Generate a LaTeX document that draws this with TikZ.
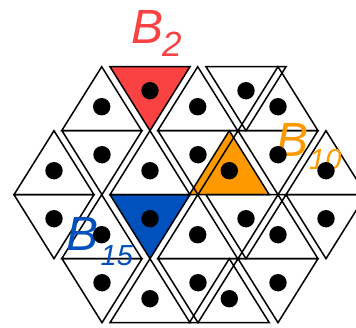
\documentclass[tikz,border=0pt]{standalone}
\usepackage{fontspec}
\setmainfont{Liberation Sans}

\definecolor{blockred}{RGB}{250,66,66}
\definecolor{blockorange}{RGB}{255,153,0}
\definecolor{blockblue}{RGB}{0,80,190}

\tikzset{
  tri/.style={line width=1.5pt, line join=miter},
  pip/.style={fill=black},
  blocklabel/.style={inner sep=0pt, anchor=base west,
    font=\fontsize{48}{48}\selectfont\itshape},
}

\begin{document}
\begin{tikzpicture}[x=1pt,y=-1pt]
  \useasboundingbox (0,0) rectangle (356,327);
  \clip (0,0) rectangle (356,327);
  % coloured blocks B_2, B_10, B_15
  \fill[blockred] (110,66.7) -- (190,66.7) -- (150,130.7) -- cycle;
  \fill[blockorange] (229.3,130.7) -- (189.3,194.7) -- (269.3,194.7) -- cycle;
  \fill[blockblue] (110,194.7) -- (190,194.7) -- (150,258.7) -- cycle;
  % upward triangles: apex x / top row
  \foreach \x/\r in {101.7/66.7, 197.7/66.7, 278/66.7,
                     54/130.7, 150/130.7, 229.3/130.7, 326/130.7,
                     101.7/194.7, 197.7/194.7, 278/194.7,
                     150/258.7, 229.3/258.7}
    \draw[tri] (\x,\r) -- ++(-40,64) -- ++(80,0) -- cycle;
  % downward triangles: apex x / top row
  \foreach \x/\r in {150/66.7, 246/66.7,
                     102/130.7, 198/130.7, 278/130.7,
                     54/194.7, 150/194.7, 246/194.7, 326/194.7,
                     102/258.7, 198/258.7, 278/258.7}
    \draw[tri] (\x-40,\r) -- ++(80,0) -- ++(-40,64) -- cycle;
  % labels
  \node[blocklabel, text=blockred] (labelB2) at (131,43.3)
    {B\kern-1pt\raisebox{-13.4pt}{\fontsize{35}{35}\selectfont 2}};
  \node[blocklabel, text=blockorange] (labelB10) at (276,156.7)
    {B\kern1pt\raisebox{-12.3pt}{\fontsize{29}{29}\selectfont 10}};
  \node[blocklabel, text=blockblue] (labelB15) at (66.5,250)
    {B\kern2pt\raisebox{-15.3pt}{\fontsize{29}{29}\selectfont 15}};
  % dots
  \foreach \x/\r in {101.7/66.7, 197.7/66.7, 278/66.7,
                     54/130.7, 150/130.7, 229.3/130.7, 326/130.7,
                     101.7/194.7, 197.7/194.7, 278/194.7,
                     150/258.7, 229.3/258.7}
    \fill[pip] (\x,\r+40) circle (8.7);
  \foreach \x/\r in {150/66.7, 246/66.7,
                     102/130.7, 198/130.7, 278/130.7,
                     54/194.7, 150/194.7, 246/194.7, 326/194.7,
                     102/258.7, 198/258.7, 278/258.7}
    \fill[pip] (\x,\r+24) circle (8.7);
\end{tikzpicture}
\end{document}
